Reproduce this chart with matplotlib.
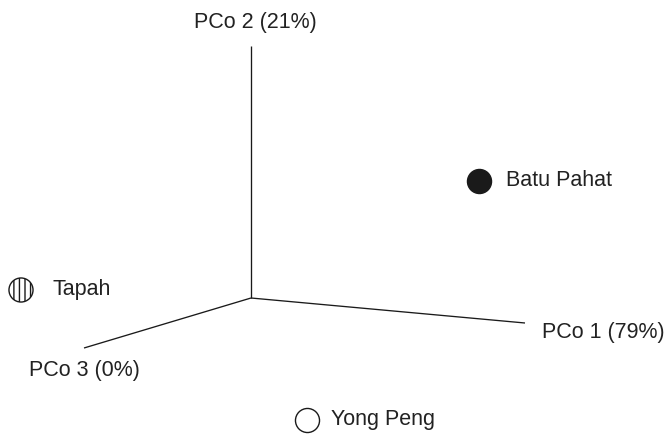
import matplotlib.pyplot as plt

plt.rcParams['font.family'] = ['Liberation Sans', 'DejaVu Sans']
plt.rcParams['hatch.linewidth'] = 1.0

# 樣本點 (投影後座標)
sites = ["Batu Pahat", "Tapah", "Yong Peng"]
site_x = [2.275, -2.30, 0.56]
site_y = [1.17, 0.08, -1.22]

# 三個座標軸的端點
axis_names = ["PCo 1 (79%)", "PCo 2 (21%)", "PCo 3 (0%)"]
axis_x = [2.74, 0.0, -1.67]
axis_y = [-0.25, 2.52, -0.50]

fig = plt.figure(figsize=(6.64, 4.37), dpi=100)
ax = fig.add_axes([0, 0, 1, 1])
ax.set_xlim(-2.51, 4.13)
ax.set_ylim(-1.39, 2.98)
ax.axis("off")

# 畫軸線
for x, y in zip(axis_x, axis_y):
    ax.plot([0, x], [0, y], color="#1a1a1a", lw=0.95, solid_capstyle="butt")

# 軸標題位置 (偏移, 單位是 points)
label_off = [(12, -7), (3, 17), (0, -16)]
label_ha = ["left", "center", "center"]
for name, x, y, off, ha in zip(axis_names, axis_x, axis_y, label_off, label_ha):
    ax.annotate(name, (x, y), xytext=off, textcoords="offset points",
                ha=ha, va="center", fontsize=15.5, color="#222222")

# 三種標記
face = ["#1a1a1a", "white", "white"]
hatch = [None, "|||", None]
for i in range(len(sites)):
    ax.scatter(site_x[i], site_y[i], s=300, facecolor=face[i], edgecolor="#1a1a1a",
               linewidth=1.0, hatch=hatch[i], zorder=3)

text_off = [20, 23, 17]
for name, x, y, dx in zip(sites, site_x, site_y, text_off):
    ax.annotate(name, (x, y), xytext=(dx, 0), textcoords="offset points",
                ha="left", va="center", fontsize=15.5, color="#222222")

plt.savefig("out.png", dpi=100)
